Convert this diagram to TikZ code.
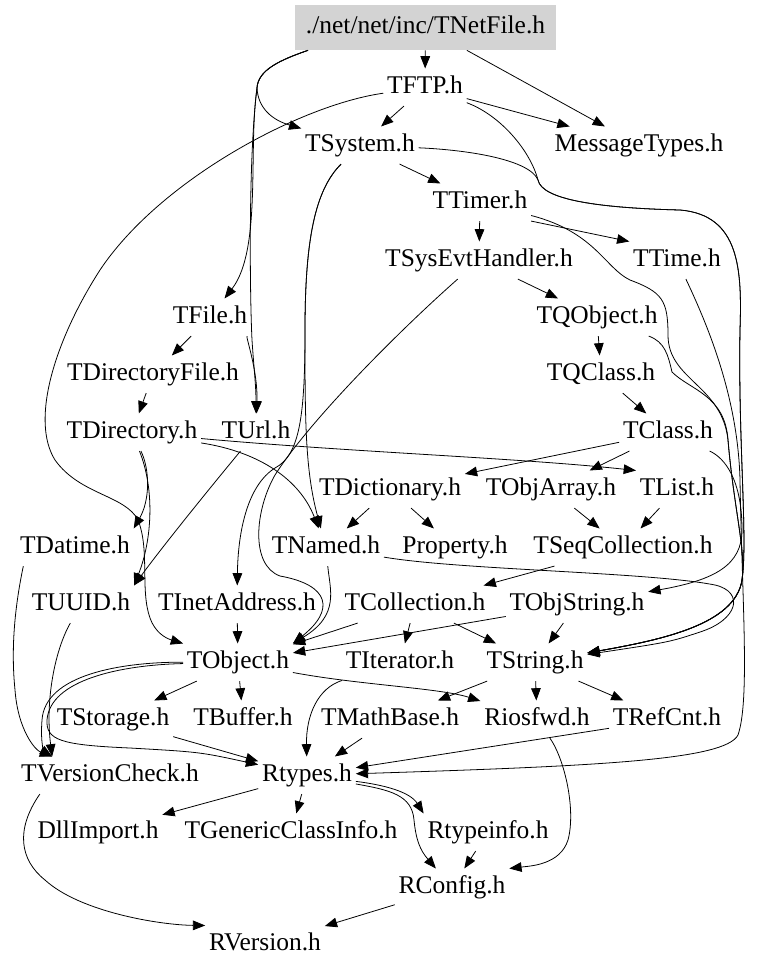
\documentclass[tikz,border=0pt]{standalone}
\usepackage{fontspec}
\setmainfont{Liberation Serif}
\usepackage{tikz}
\usepackage{xcolor}
\usetikzlibrary{arrows.meta}
\definecolor{rootgray}{RGB}{211,211,211}

\begin{document}
\begin{tikzpicture}[x=0.02cm, y=-0.02cm,
    hdr/.style={font=\fontsize{14.5}{17}\selectfont, inner xsep=2pt, inner ysep=4pt, text height=10pt, text depth=3pt, yshift=-1.3pt},
    root/.style={font=\fontsize{14.5}{17}\selectfont, fill=rootgray, minimum width=5.22cm, minimum height=0.9cm, text height=10pt, text depth=3pt},
    dep/.style={-{Triangle[length=7pt,width=5.5pt]}, line width=0.45pt}]
	\useasboundingbox (0,0) rectangle (759,971);
	\node[root] (net) at (425.5,27.5) {./net/net/inc/TNetFile.h};
	\node[hdr] (ftp) at (425,85) {TFTP.h};
	\node[hdr] (sys) at (360,143) {TSystem.h};
	\node[hdr] (msg) at (639,143) {MessageTypes.h};
	\node[hdr] (tmr) at (480,200) {TTimer.h};
	\node[hdr] (seh) at (479,258) {TSysEvtHandler.h};
	\node[hdr] (time) at (677,258) {TTime.h};
	\node[hdr] (file) at (210,315) {TFile.h};
	\node[hdr] (qobj) at (597,315) {TQObject.h};
	\node[hdr] (dirf) at (153,372) {TDirectoryFile.h};
	\node[hdr] (qcls) at (601,372) {TQClass.h};
	\node[hdr] (dir) at (132,430) {TDirectory.h};
	\node[hdr] (url) at (256,430) {TUrl.h};
	\node[hdr] (cls) at (668,430) {TClass.h};
	\node[hdr] (dict) at (390,487) {TDictionary.h};
	\node[hdr] (oarr) at (551,487) {TObjArray.h};
	\node[hdr] (list) at (677,487) {TList.h};
	\node[hdr] (dat) at (75,545) {TDatime.h};
	\node[hdr] (nam) at (326,545) {TNamed.h};
	\node[hdr] (prop) at (455,545) {Property.h};
	\node[hdr] (seqc) at (623,545) {TSeqCollection.h};
	\node[hdr] (uuid) at (81,602) {TUUID.h};
	\node[hdr] (inet) at (237,602) {TInetAddress.h};
	\node[hdr] (coll) at (415,602) {TCollection.h};
	\node[hdr] (ostr) at (577,602) {TObjString.h};
	\node[hdr] (obj) at (238,660) {TObject.h};
	\node[hdr] (iter) at (400,660) {TIterator.h};
	\node[hdr] (str) at (535,660) {TString.h};
	\node[hdr] (stor) at (113,717) {TStorage.h};
	\node[hdr] (buf) at (243,717) {TBuffer.h};
	\node[hdr] (math) at (390,717) {TMathBase.h};
	\node[hdr] (ios) at (537,717) {Riosfwd.h};
	\node[hdr] (ref) at (667,717) {TRefCnt.h};
	\node[hdr] (vchk) at (110,773) {TVersionCheck.h};
	\node[hdr] (rty) at (307,773) {Rtypes.h};
	\node[hdr] (dll) at (98,830) {DllImport.h};
	\node[hdr] (gci) at (291,830) {TGenericClassInfo.h};
	\node[hdr] (rti) at (488,830) {Rtypeinfo.h};
	\node[hdr] (rcfg) at (452,885) {RConfig.h};
	\node[hdr] (rver) at (265,942) {RVersion.h};

	\draw[dep] (net) -- (ftp);
	\draw[dep] (net) -- (msg);
	\draw[dep] (net.191) .. controls (280,60) and (258,70) .. (257,88) .. controls (258,108) and (272,120) .. (sys);
	\draw[dep] (net.191) .. controls (280,60) and (258,70) .. (257,88) .. controls (248,150) and (262,250) .. (file);
	\draw[dep] (net.191) .. controls (280,60) and (258,70) .. (257,88) .. controls (248,160) and (250,300) .. (252,340) .. controls (254,370) and (256,385) .. (url);
	\draw[dep] (ftp) -- (sys);
	\draw[dep] (ftp) -- (msg);
	\draw[dep] (ftp) .. controls (300,105) and (160,180) .. (100,270) .. controls (55,340) and (30,420) .. (55,460) .. controls (80,495) and (125,495) .. (138,520) .. controls (150,550) and (140,590) .. (150,618) .. controls (155,632) and (165,638) .. (obj.north west);
	\draw[dep] (ftp) .. controls (500,115) and (530,150) .. (538,180) .. controls (542,200) and (600,208) .. (680,210) .. controls (740,215) and (742,270) .. (740,330) .. controls (738,440) and (748,540) .. (742,580) .. controls (735,625) and (660,640) .. (str);
	\draw[dep] (sys) .. controls (470,150) and (530,160) .. (538,180) .. controls (542,200) and (600,208) .. (680,210) .. controls (740,215) and (742,270) .. (740,330) .. controls (738,440) and (748,540) .. (742,580) .. controls (735,625) and (660,640) .. (str);
	\draw[dep] (sys) -- (tmr);
	\draw[dep] (sys) .. controls (315,190) and (305,240) .. (305,330) .. controls (305,415) and (300,455) .. (275,468) .. controls (248,485) and (238,530) .. (inet);
	\draw[dep] (sys) .. controls (315,190) and (305,240) .. (305,330) .. controls (305,420) and (305,470) .. (nam);
	\draw[dep] (tmr) -- (seh);
	\draw[dep] (tmr.south east) -- (time.north west);
	\draw[dep] (tmr) .. controls (595,232) and (605,268) .. (630,280) .. controls (662,292) and (668,300) .. (668,335) .. controls (668,380) and (722,385) .. (728,440) .. controls (734,510) and (746,550) .. (742,580) .. controls (735,625) and (660,640) .. (str);
	\draw[dep] (seh) -- (qobj);
	\draw[dep] (seh) .. controls (400,330) and (310,420) .. (275,475) .. controls (255,510) and (250,565) .. (280,576) .. controls (330,585) and (335,610) .. (obj.north east);
	\draw[dep] (time) .. controls (710,330) and (738,400) .. (740,480) .. controls (742,600) and (750,700) .. (738,735) .. controls (725,760) and (600,766) .. (rty);
	\draw[dep] (file) -- (dirf);
	\draw[dep] (file) .. controls (245,335) and (258,370) .. (url);
	\draw[dep] (qobj) -- (qcls);
	\draw[dep] (qobj) .. controls (665,342) and (668,355) .. (672,372) .. controls (690,390) and (725,395) .. (728,440) .. controls (734,510) and (746,550) .. (742,580) .. controls (735,625) and (660,640) .. (str);
	\draw[dep] (dirf) -- (dir);
	\draw[dep] (qcls) -- (cls);
	\draw[dep] (dir) .. controls (150,470) and (150,500) .. (dat.north east);
	\draw[dep] (dir) .. controls (155,490) and (152,540) .. (uuid.north east);
	\draw[dep] (dir) .. controls (260,452) and (300,480) .. (nam);
	\draw[dep] (dir) .. controls (350,452) and (520,458) .. (list.north west);
	\draw[dep] (url) .. controls (200,500) and (160,550) .. (uuid.north east);
	\draw[dep] (cls) -- (dict);
	\draw[dep] (cls) -- (oarr);
	\draw[dep] (cls) .. controls (725,458) and (742,480) .. (742,530) .. controls (742,565) and (715,580) .. (ostr);
	\draw[dep] (dict) -- (nam);
	\draw[dep] (dict) -- (prop);
	\draw[dep] (oarr) -- (seqc);
	\draw[dep] (list) -- (seqc);
	\draw[dep] (seqc) -- (coll);
	\draw[dep] (nam) .. controls (330,590) and (340,615) .. (obj.north east);
	\draw[dep] (nam) .. controls (460,570) and (650,572) .. (715,585) .. controls (745,592) and (738,620) .. (700,632) .. controls (670,642) .. (str);
	\draw[dep] (inet) -- (obj);
	\draw[dep] (coll) -- (iter);
	\draw[dep] (coll) -- (str);
	\draw[dep] (coll) -- (obj);
	\draw[dep] (ostr) -- (str);
	\draw[dep] (ostr) -- (obj);
	\draw[dep] (obj) -- (stor);
	\draw[dep] (obj) -- (buf);
	\draw[dep] (obj) .. controls (120,662) and (45,675) .. (42,720) .. controls (40,745) and (45,752) .. (vchk.162);
	\draw[dep] (obj) .. controls (120,665) and (50,680) .. (47,720) .. controls (46,740) and (60,745) .. (130,748) .. controls (200,752) .. (rty);
	\draw[dep] (obj) .. controls (360,685) and (440,688) .. (ios);
	\draw[dep] (dat.200) .. controls (12,620) and (12,660) .. (15,690) .. controls (18,730) and (35,750) .. (vchk.162);
	\draw[dep] (uuid) .. controls (55,650) and (45,700) .. (vchk.162);
	\draw[dep] (stor) -- (rty);
	\draw[dep] (iter) .. controls (318,688) and (306,715) .. (rty);
	\draw[dep] (str) -- (math);
	\draw[dep] (str) -- (ios);
	\draw[dep] (str) -- (ref);
	\draw[dep] (math) -- (rty);
	\draw[dep] (ios) .. controls (565,760) and (576,810) .. (568,840) .. controls (560,865) and (530,866) .. (rcfg.north east);
	\draw[dep] (ref) -- (rty);
	\draw[dep] (vchk.195) .. controls (15,830) and (20,860) .. (45,880) .. controls (80,912) and (160,925) .. (rver.north west);
	\draw[dep] (rty) -- (dll);
	\draw[dep] (rty) -- (gci);
	\draw[dep] (rty) .. controls (385,785) and (410,792) .. (rti.north west);
	\draw[dep] (rty) .. controls (390,790) and (412,795) .. (414,820) .. controls (416,840) and (420,850) .. (rcfg);
	\draw[dep] (rti) -- (rcfg);
	\draw[dep] (rcfg) -- (rver);
\end{tikzpicture}
\end{document}
